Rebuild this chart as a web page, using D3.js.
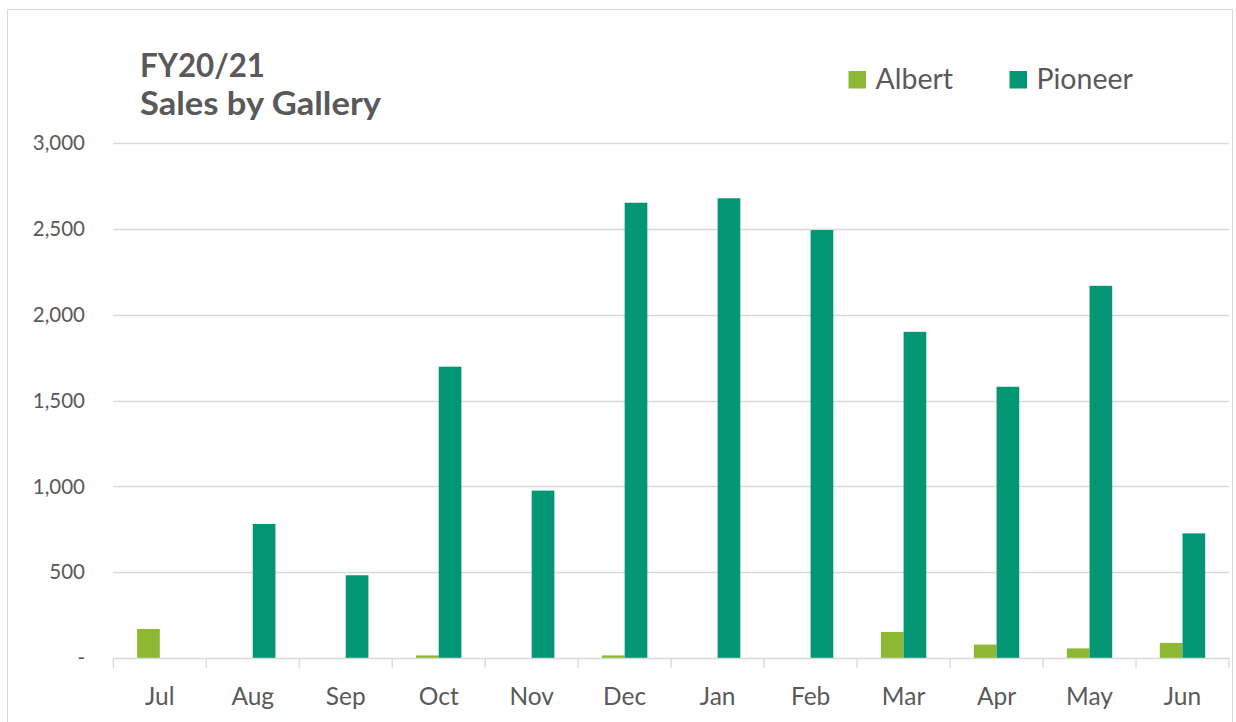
<!DOCTYPE html>
<html>
<head>
<meta charset="utf-8">
<script src="https://cdn.jsdelivr.net/npm/d3@7"></script>
<style>
  html, body { margin: 0; padding: 0; background: #fff; }
  svg { display: block; font-family: Lato, "Open Sans", sans-serif; }
</style>
</head>
<body>
<svg id="chart" width="1236" height="722"></svg>
<script>
// ---- data ----
const months = ["Jul","Aug","Sep","Oct","Nov","Dec","Jan","Feb","Mar","Apr","May","Jun"];
const seriesNames = ["Albert","Pioneer"];
const albert  = [169, 0, 0, 15, 0, 15, 0, 0, 152, 78, 56, 88];
const pioneer = [0, 781, 482, 1697, 975, 2652, 2678, 2493, 1900, 1580, 2168, 726];
const yTicks = [0, 500, 1000, 1500, 2000, 2500, 3000];
const titleLines = ["FY20/21", "Sales by Gallery"];
const colors = ["#8cb833", "#039675"];

// ---- layout ----
const svg = d3.select("#chart");
const plot = { left: 113.3, right: 1229, top: 143, bottom: 658 };
const textColor = "#595959";
const gridColor = "#d9d9d9";
const titleWidths = [125, 241];

// outer border
svg.append("rect")
  .attr("x", 7.5).attr("y", 9.5)
  .attr("width", 1225).attr("height", 720)
  .attr("fill", "none").attr("stroke", gridColor).attr("stroke-width", 1);

const x0 = d3.scaleBand().domain(months).range([plot.left, plot.right]).padding(0);
const x1 = d3.scaleBand().domain(seriesNames).range([0, x0.bandwidth()]).paddingInner(0).paddingOuter(1.05);
const y = d3.scaleLinear().domain([0, 3000]).range([plot.bottom, plot.top]);

// gridlines
svg.append("g").selectAll("line").data(yTicks.filter(d => d > 0)).join("line")
  .attr("x1", plot.left).attr("x2", plot.right)
  .attr("y1", d => Math.round(y(d)) + 0.5).attr("y2", d => Math.round(y(d)) + 0.5)
  .attr("stroke", gridColor).attr("stroke-width", 1.3);

// y labels
const yFmt = d => d === 0 ? "-" : d3.format(",")(d);
svg.append("g").selectAll("text").data(yTicks).join("text")
  .attr("x", 85).attr("y", d => y(d))
  .attr("dy", "0.35em")
  .attr("text-anchor", "end")
  .attr("fill", textColor)
  .style("font-size", "20.5px")
  .text(yFmt);

// bars
const data = months.map((m, i) => ({ month: m, values: [albert[i], pioneer[i]] }));
const groups = svg.append("g").selectAll("g").data(data).join("g")
  .attr("transform", d => `translate(${x0(d.month)},0)`);
groups.selectAll("rect").data(d => d.values.map((v, j) => ({ key: seriesNames[j], v, j })))
  .join("rect")
  .attr("x", d => x1(d.key))
  .attr("width", x1.bandwidth())
  .attr("y", d => y(d.v))
  .attr("height", d => y(0) - y(d.v))
  .attr("fill", d => colors[d.j]);

// x axis line and ticks
svg.append("line")
  .attr("x1", plot.left).attr("x2", plot.right)
  .attr("y1", plot.bottom + 0.5).attr("y2", plot.bottom + 0.5)
  .attr("stroke", gridColor).attr("stroke-width", 1.3);
const boundaries = months.map(m => x0(m)).concat([plot.right]);
svg.append("g").selectAll("line").data(boundaries).join("line")
  .attr("x1", d => d).attr("x2", d => d)
  .attr("y1", plot.bottom).attr("y2", plot.bottom + 10)
  .attr("stroke", gridColor).attr("stroke-width", 1.3);

// x labels
svg.append("g").selectAll("text").data(months).join("text")
  .attr("x", d => x0(d) + x0.bandwidth() / 2)
  .attr("y", 704.5)
  .attr("text-anchor", "middle")
  .attr("fill", textColor)
  .style("font-size", "24.5px")
  .text(d => d);

// title
svg.append("g").selectAll("text").data(titleLines).join("text")
  .attr("x", 140)
  .attr("y", (d, i) => 76.5 + i * 38.5)
  .attr("fill", textColor)
  .attr("textLength", (d, i) => titleWidths[i])
  .attr("lengthAdjust", "spacingAndGlyphs")
  .style("font-size", "32px")
  .style("font-weight", "bold")
  .text(d => d);

// legend
const legendX = [848.5, 1009.5];
const legend = svg.append("g").selectAll("g").data(seriesNames).join("g")
  .attr("transform", (d, i) => `translate(${legendX[i]},0)`);
legend.append("rect")
  .attr("x", 0).attr("y", 71).attr("width", 17.5).attr("height", 17.5)
  .attr("fill", (d, i) => colors[i]);
legend.append("text")
  .attr("x", 27).attr("y", 89)
  .attr("fill", textColor)
  .style("font-size", "28.5px")
  .text(d => d);
</script>
</body>
</html>
